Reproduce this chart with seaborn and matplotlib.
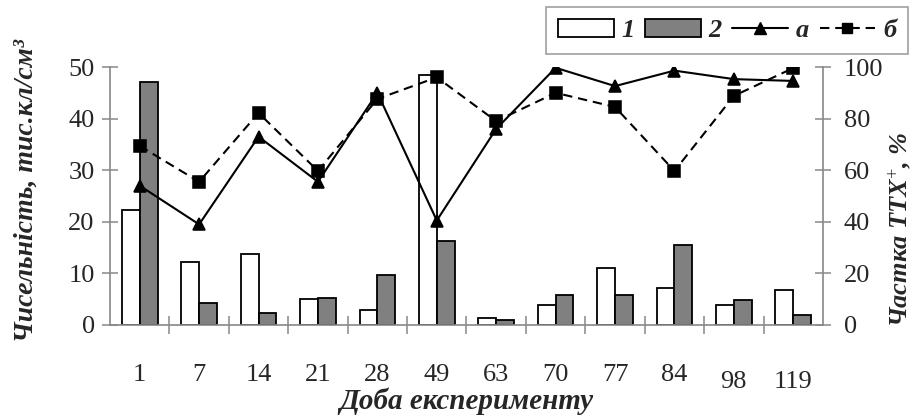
import numpy as np
import pandas as pd
import seaborn as sns
import matplotlib.pyplot as plt
from matplotlib.patches import Patch
from matplotlib.lines import Line2D
from matplotlib.ticker import FixedLocator
from matplotlib.transforms import ScaledTranslation

# Дані
days = ["1", "7", "14", "21", "28", "49", "63", "70", "77", "84", "98", "119"]
count_1 = [22.3, 12.2, 13.7, 5.0, 3.0, 48.4, 1.3, 3.8, 11.0, 7.2, 3.8, 6.8]
count_2 = [47.1, 4.2, 2.4, 5.2, 9.7, 16.3, 1.0, 5.9, 5.9, 15.5, 4.8, 1.9]
share_a = [54, 39, 73, 55.5, 90, 40.5, 76, 99.7, 92.6, 98.6, 95.3, 94.6]
share_b = [69.4, 55.5, 82.2, 59.7, 87.6, 96, 79, 90, 84.5, 59.7, 88.8, 99.6]

sns.set_style("white")
plt.rcParams['font.family'] = ['Liberation Serif', 'DejaVu Serif']
plt.rcParams['mathtext.fontset'] = 'custom'
plt.rcParams['mathtext.rm'] = 'Liberation Serif'
plt.rcParams['mathtext.it'] = 'Liberation Serif:italic:bold'
plt.rcParams['mathtext.bf'] = 'Liberation Serif:bold'

bars = pd.DataFrame({
    "day": days * 2,
    "value": count_1 + count_2,
    "series": ["1"] * len(days) + ["2"] * len(days),
})
lines = pd.DataFrame({
    "day": days * 2,
    "value": share_a + share_b,
    "series": ["а"] * len(days) + ["б"] * len(days),
})

fig = plt.figure(figsize=(9.19, 4.18), dpi=100)
ax = fig.add_axes([0.1197, 0.2225, 0.7758, 0.6172])

sns.barplot(data=bars, x="day", y="value", hue="series", order=days,
            palette={"1": "white", "2": "#808080"}, width=0.6,
            edgecolor="black", linewidth=1.3, saturation=1, ax=ax, legend=False)

ax2 = ax.twinx()
sns.pointplot(data=lines, x="day", y="value", hue="series", order=days,
              palette={"а": "black", "б": "black"}, markers=["^", "s"],
              linestyles=["-", "--"], markersize=8, linewidth=1.5,
              dodge=False, ax=ax2, legend=False)
for ln in ax2.lines:
    if ln.get_linestyle() == '--':
        ln.set_dashes([4.5, 2.8])

gray = "#888888"
for a in (ax, ax2):
    a.set_xlim(-0.5, 11.5)
    for s in a.spines.values():
        s.set_visible(False)

ax.set_ylim(0, 50)
ax.set_yticks([0, 10, 20, 30, 40, 50])
ax2.set_ylim(0, 100)
ax2.set_yticks([0, 20, 40, 60, 80, 100])

ax.spines['left'].set_visible(True)
ax.spines['bottom'].set_visible(True)
ax2.spines['right'].set_visible(True)
for s in (ax.spines['left'], ax.spines['bottom'], ax2.spines['right']):
    s.set_color(gray)
    s.set_linewidth(1.2)

ax.tick_params(axis='y', direction='inout', length=12, width=1.1, color=gray,
               labelsize=19, pad=5, left=True)
ax2.tick_params(axis='y', direction='inout', length=12, width=1.1, color=gray,
                labelsize=19, pad=9, right=True)
ax.xaxis.set_minor_locator(FixedLocator(np.arange(0.5, 11, 1)))
ax.tick_params(axis='x', which='major', length=0, labelsize=19, pad=28)
ax.tick_params(axis='x', which='minor', direction='inout', length=13, width=1.1,
               color=gray, bottom=True)

for lab in ax.get_xticklabels()[10:]:
    lab.set_transform(lab.get_transform() +
                      ScaledTranslation(0, -5 / 72, fig.dpi_scale_trans))

ax.set_xlabel("Доба експерименту", fontsize=21, fontweight='bold',
              fontstyle='italic', labelpad=-4)
ax.set_ylabel("Чисельність, тис.кл/см³", fontsize=20, fontweight='bold',
              fontstyle='italic')
ax.yaxis.set_label_coords(-0.100, 0.52)
ax2.set_ylabel("Частка ТТХ$^{+}$, %", fontsize=19, fontweight='bold',
               fontstyle='italic', rotation=90)
ax2.yaxis.set_label_coords(1.089, 0.37)

handles = [
    Patch(facecolor="white", edgecolor="black", linewidth=1.3),
    Patch(facecolor="#808080", edgecolor="black", linewidth=1.3),
    Line2D([], [], color="black", lw=1.5, marker="^", markersize=8),
    Line2D([], [], color="black", lw=1.5, ls=(0, (4.5, 2.8)), marker="s", markersize=7),
]
leg = fig.legend(handles, ["1", "2", "а", "б"], loc="upper right",
                 bbox_to_anchor=(0.988, 0.983), borderaxespad=0, ncol=4,
                 frameon=True, fancybox=False, edgecolor=gray,
                 handlelength=2.1, handleheight=0.65, handletextpad=0.3,
                 columnspacing=0.4, borderpad=0.45,
                 prop={'family': 'Liberation Serif', 'weight': 'bold',
                       'style': 'italic', 'size': 19})
leg.get_frame().set_linewidth(1.2)

fig.savefig("out.png", dpi=100)
